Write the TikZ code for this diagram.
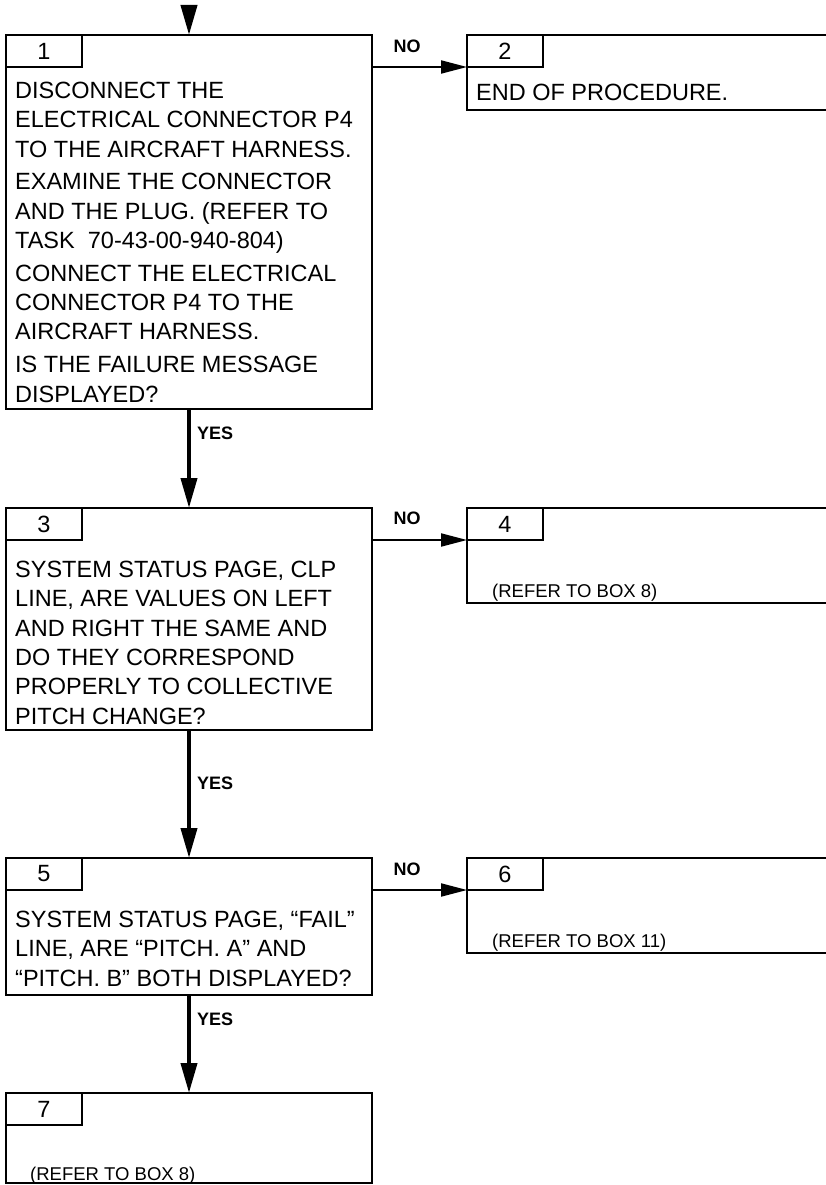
\documentclass[tikz,border=0pt]{standalone}
\usepackage{fontspec}
\setmainfont{Liberation Sans}
\usetikzlibrary{arrows.meta}

\tikzset{
  box/.style={draw, line width=2pt, rectangle, inner sep=0pt, outer sep=0pt, anchor=north west},
  tab/.style={box, minimum width=76pt, minimum height=32pt, font=\fontsize{23.5}{28}\selectfont},
  body/.style={anchor=base west, inner sep=0pt, align=left, font=\fontsize{23.5}{29.3}\selectfont},
  note/.style={anchor=base west, inner sep=0pt, font=\fontsize{18.5}{22}\selectfont},
  lbl/.style={inner sep=0pt, font=\fontsize{18}{20}\selectfont\bfseries},
  yesarrow/.style={line width=4pt, -{Triangle[length=30pt,width=16pt]}},
  noarrow/.style={line width=2pt, -{Triangle[length=26pt,width=13pt]}},
}

\begin{document}
\begin{tikzpicture}[x=1pt, y=-1pt]

  %% ════ 左列方框 ════
  \node[box, minimum width=366pt, minimum height=374pt] (b1) at (6,35) {};
  \node[box, minimum width=366pt, minimum height=222pt] (b3) at (6,508) {};
  \node[box, minimum width=366pt, minimum height=137pt] (b5) at (6,858) {};
  \node[box, minimum width=366pt, minimum height=90pt]  (b7) at (6,1093) {};

  %% ════ 右列方框（右边框落在画布外）════
  \node[box, minimum width=361pt, minimum height=75pt] (b2) at (467,35) {};
  \node[box, minimum width=361pt, minimum height=95pt] (b4) at (467,508) {};
  \node[box, minimum width=361pt, minimum height=95pt] (b6) at (467,858) {};

  %% ════ 编号小格 ════
  \node[tab] (t1) at (6,35)    {1};
  \node[tab] (t2) at (467,35)  {2};
  \node[tab] (t3) at (6,508)   {3};
  \node[tab] (t4) at (467,508) {4};
  \node[tab] (t5) at (6,858)   {5};
  \node[tab] (t6) at (467,858) {6};
  \node[tab] (t7) at (6,1093)  {7};

  %% ════ 正文（多行节点：base 取最后一行基线）════
  \node[body] (b1txt) at (15,402) {DISCONNECT THE\\
    ELECTRICAL CONNECTOR P4\\
    TO THE AIRCRAFT HARNESS.\\[3.5pt]
    EXAMINE THE CONNECTOR\\
    AND THE PLUG. (REFER TO\\
    TASK\ \ 70-43-00-940-804)\\[3.5pt]
    CONNECT THE ELECTRICAL\\
    CONNECTOR P4 TO THE\\
    AIRCRAFT HARNESS.\\[3.5pt]
    IS THE FAILURE MESSAGE\\
    DISPLAYED?};
  \node[body] (b2txt) at (476,101) {END OF PROCEDURE.};
  \node[body] (b3txt) at (15,724) {SYSTEM STATUS PAGE, CLP\\
    LINE, ARE VALUES ON LEFT\\
    AND RIGHT THE SAME AND\\
    DO THEY CORRESPOND\\
    PROPERLY TO COLLECTIVE\\
    PITCH CHANGE?};
  \node[note] (b4txt) at (492,597) {(REFER TO BOX 8)};
  \node[body] (b5txt) at (15,986) {SYSTEM STATUS PAGE, “FAIL”\\
    LINE, ARE “PITCH. A” AND\\
    “PITCH. B” BOTH DISPLAYED?};
  \node[note] (b6txt) at (492,947)  {(REFER TO BOX 11)};
  \node[note] (b7txt) at (30,1180)  {(REFER TO BOX 8)};

  %% ════ 连线 ════
  \coordinate (in) at (189,5);
  \draw[yesarrow] (in) -- (b1.north);
  \draw[yesarrow] (b1.south) -- (b3.north);
  \draw[yesarrow] (b3.south) -- (b5.north);
  \draw[yesarrow] (b5.south) -- (b7.north);
  \draw[noarrow] (b1.east |- t1.south) -- (b2.west |- t2.south);
  \draw[noarrow] (b3.east |- t3.south) -- (b4.west |- t4.south);
  \draw[noarrow] (b5.east |- t5.south) -- (b6.west |- t6.south);

  %% ════ YES / NO ════
  \node[lbl, anchor=west] (yes1) at (197,433)   {YES};
  \node[lbl, anchor=west] (yes2) at (197,783.5) {YES};
  \node[lbl, anchor=west] (yes3) at (197,1019)  {YES};
  \node[lbl] (no1) at (407,46)    {NO};
  \node[lbl] (no2) at (407,518.5) {NO};
  \node[lbl] (no3) at (407,869)   {NO};

  \pgfresetboundingbox
  \path[use as bounding box] (0,0) rectangle (825,1185);
\end{tikzpicture}
\end{document}
